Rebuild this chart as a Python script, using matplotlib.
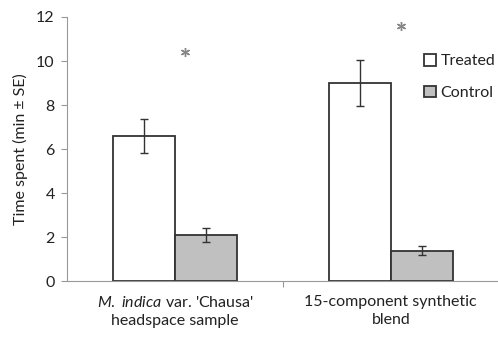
import matplotlib.pyplot as plt
import numpy as np

plt.rcParams['font.family'] = ['Lato', 'DejaVu Sans']
plt.rcParams['mathtext.fontset'] = 'custom'
plt.rcParams['mathtext.it'] = 'Lato:italic'
plt.rcParams['mathtext.rm'] = 'Lato'

categories = ["$\\it{M.\\ indica}$ var. 'Chausa'\nheadspace sample",
              "15-component synthetic\nblend"]
treated = [6.6, 9.0]
treated_se = [0.78, 1.05]
control = [2.1, 1.4]
control_se = [0.31, 0.22]
star_y = [10.4, 11.6]

fig = plt.figure(figsize=(4.98, 3.39), dpi=100)
ax = fig.add_axes([0.135, 0.17, 0.875, 0.78])

x = np.arange(len(categories))
w = 0.287
err_kw = dict(ecolor="#333333", elinewidth=1.0, capsize=3, capthick=1.0)
ax.bar(x - w / 2, treated, w, yerr=treated_se, color="white",
       edgecolor="#333333", linewidth=1.3, label="Treated", error_kw=err_kw)
ax.bar(x + w / 2, control, w, yerr=control_se, color="#c0c0c0",
       edgecolor="#333333", linewidth=1.3, label="Control", error_kw=err_kw)

# significance asterisks
ax.plot(x + 0.045, star_y, linestyle="none", marker=(6, 2, 0),
        markersize=6.5, markeredgewidth=1.0, color="#888888")

ax.set_xlim(-0.5, 1.52)
ax.set_ylim(0, 12)
ax.set_yticks(range(0, 13, 2))
ax.set_xticks([0.5])
ax.set_xticklabels([])
ax.set_xticks(x, minor=True)
ax.set_xticklabels(categories, minor=True, fontsize=11.5, linespacing=1.35,
                   color="#222222")
ax.tick_params(axis="x", which="minor", length=0, pad=10)
ax.tick_params(axis="x", which="major", length=4, color="#999999")
ax.tick_params(axis="y", length=4, color="#999999", labelsize=11.5, pad=5,
               labelcolor="#222222")
ax.set_ylabel("Time spent (min ± SE)", fontsize=11.5, color="#222222",
              labelpad=6)

for side in ["top", "right"]:
    ax.spines[side].set_visible(False)
for side in ["left", "bottom"]:
    ax.spines[side].set_color("#999999")

ax.legend(loc="upper right", bbox_to_anchor=(1.015, 0.915), frameon=False,
          fontsize=11.5, handlelength=0.75, handleheight=0.75,
          handletextpad=0.3, labelspacing=1.1, labelcolor="#222222")

fig.savefig("out.png")
